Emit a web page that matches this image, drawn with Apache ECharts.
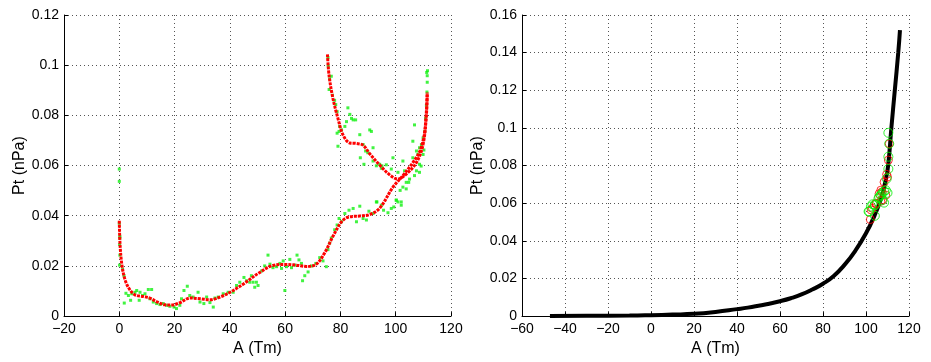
<!DOCTYPE html>
<html>
<head>
<meta charset="utf-8">
<script src="https://cdn.jsdelivr.net/npm/echarts@6/dist/echarts.min.js"></script>
<style>
html,body{margin:0;padding:0;background:#fff;}
#chart{width:931px;height:362px;}
</style>
</head>
<body>
<div id="chart"></div>
<script>
// ---------- tick labels ----------
const leftXTicks = [-20, 0, 20, 40, 60, 80, 100, 120];
const leftYTicks = [0, 0.02, 0.04, 0.06, 0.08, 0.1, 0.12];
const rightXTicks = [-60, -40, -20, 0, 20, 40, 60, 80, 100, 120];
const rightYTicks = [0, 0.02, 0.04, 0.06, 0.08, 0.1, 0.12, 0.14, 0.16];
const xAxisTitle = 'A (Tm)';
const yAxisTitle = 'Pt (nPa)';

// ---------- left panel: fitted curve (red), lower and upper branches ----------
const fitLower = [
  [0,0.038],[0.3,0.028],[1,0.02],[2.2,0.0141],[4,0.0102],[5.8,0.0084],[8.8,0.0078],[11.2,0.0071],
  [13.6,0.0057],[16.6,0.0045],[19,0.0044],[22,0.0054],[25.6,0.0072],[29.3,0.0069],[32.9,0.0065],
  [36.5,0.0076],[40.1,0.0095],[44.9,0.0128],[50.8,0.0174],[55.6,0.0202],[60.5,0.0206],[64,0.0203],
  [67.7,0.0198],[71.3,0.0207],[74.3,0.0252],[77.3,0.0318],[80.4,0.0376],[82.7,0.0394],[87,0.0399],
  [90.6,0.0405],[94.2,0.043],[99,0.0514],[102.6,0.056],[106.2,0.0612],[108.7,0.0657],[110.5,0.0736],[111.4,0.089]
];
const fitUpper = [
  [75.3,0.1043],[75.9,0.0958],[77.3,0.0867],[79.1,0.0788],[80.9,0.0723],[83.4,0.069],[85.8,0.0688],
  [88.2,0.0681],[90.6,0.0647],[94.2,0.0602],[97.8,0.0563],[100.8,0.0546],[103.8,0.0566],[107.5,0.0612],
  [109.9,0.0684],[111.1,0.0801],[111.4,0.089]
];

// ---------- left panel: observations (green) ----------
const observed = [
  [0,0.0586],[0,0.0537],[0,0.037],[0.2,0.0318],[0.2,0.0311],[0.1,0.0285],[0.2,0.0243],[0.1,0.0203],
  [1.2,0.0187],[1.7,0.0161],[2.4,0.0091],[1.8,0.0052],[3.3,0.0082],[4.5,0.0089],[4.1,0.0063],
  [5.7,0.0095],[6.3,0.0102],[7.5,0.0095],[7.2,0.0063],[8.4,0.0082],[9.3,0.0089],[10.5,0.0106],
  [11.7,0.0106],[11.1,0.0069],[12.3,0.0056],[13.5,0.005],[14.7,0.0046],[15.9,0.005],[17.1,0.0043],
  [18.3,0.0039],[19.8,0.0036],[20.7,0.003],[21.9,0.0043],[22.5,0.0069],[23.4,0.0102],[24.6,0.0119],
  [25.5,0.0082],[26.7,0.0076],[28.5,0.0095],[29.2,0.0056],[30.6,0.005],[31.6,0.0076],[32.8,0.0054],
  [34.6,0.0072],[34,0.0036],[35.8,0.0076],[37.6,0.0089],[39.4,0.0095],[41.2,0.0095],[42.4,0.0122],
  [43.6,0.0135],[45.1,0.0154],[46,0.0141],[47.2,0.0135],[47.8,0.0161],[49,0.0115],[49.6,0.0135],
  [48.4,0.0135],[50.2,0.0122],[51.5,0.018],[52.6,0.02],[53.8,0.0243],[54.5,0.0207],[55.6,0.0193],
  [56.9,0.0197],[58.1,0.021],[58.7,0.019],[59.3,0.022],[59.9,0.0102],[60.5,0.0197],[61.7,0.0226],
  [62.3,0.0193],[63.5,0.0203],[64.3,0.0243],[65,0.0224],[65.9,0.021],[66.3,0.0141],[67.1,0.0161],
  [68.3,0.0176],[69.5,0.02],[71.1,0.021],[72.5,0.0233],[73.7,0.022],[74.9,0.0197],[75.5,0.0265],
  [76.1,0.0291],[76.7,0.0311],[77.9,0.0344],[78.8,0.0363],[79.5,0.0389],[80.4,0.0376],[81.6,0.0409],
  [83.1,0.0422],[84.6,0.0429],[85.8,0.0376],[87,0.0438],[88.2,0.0389],[89.4,0.0383],[90.3,0.0418],
  [91.8,0.0409],[93.2,0.0455],[94.8,0.0442],[95.6,0.0422],[97.2,0.0412],[98.4,0.0429],[99.3,0.0435],
  [100.2,0.0462],[100.8,0.0455],[102,0.0442],[102.6,0.0514],[103.8,0.0533],[105,0.0546],
  [75.5,0.103],[75.6,0.0997],[76.1,0.0945],[76.7,0.0956],[75.9,0.0903],[77.1,0.088],[77.9,0.086],
  [78.3,0.0843],[78.8,0.0815],[82.7,0.083],[83.4,0.0804],[84,0.0788],[84.6,0.0782],[85.5,0.0782],
  [82.2,0.0775],[81.6,0.0756],[80.4,0.0742],[79.5,0.0736],[78.8,0.0729],[79.7,0.0756],[79.1,0.0677],
  [87,0.0723],[88.2,0.0684],[89.1,0.0658],[89.9,0.0651],[90.6,0.0742],[91.2,0.0736],[87.2,0.0631],
  [88.5,0.0605],[91.8,0.0618],[93,0.0599],[94.2,0.0605],[94.8,0.0589],[96.6,0.0603],[98.4,0.0586],
  [99,0.0631],[100.8,0.0573],[102.6,0.0618],[103.2,0.0579],[106.2,0.0631],[106.8,0.0762],[107.5,0.0658],
  [108,0.0644],[108.6,0.0671],[109.3,0.0684],[109.9,0.071],[110.5,0.0736],[110.8,0.0788],[111.1,0.084],
  [111.3,0.0893],[111.4,0.0932],[111.4,0.0958],[111.5,0.0978],[109.9,0.0644],[108.6,0.0605],[107.5,0.0579],
  [106.8,0.056],[91.8,0.0671],[95,0.0599],[106.2,0.0697],[108.6,0.0573],[104.7,0.0533],[103.8,0.0507],
  [101.6,0.0501],[102,0.0455],[100.2,0.0462],[93,0.0455],[111.2,0.0971],[110.2,0.0662],[109.2,0.0598]
];

// ---------- right panel: model curve (black) ----------
const modelCurve = [
  [-47,0.0001],[-30,0.0002],[-10,0.0003],[0,0.0005],[10,0.0008],[20,0.0012],[30,0.0022],[40,0.0037],
  [45,0.0045],[50,0.0055],[55,0.0066],[60,0.0079],[65,0.0095],[70,0.0115],[75,0.0141],[80,0.0172],
  [85,0.0213],[90,0.0272],[95,0.0347],[100,0.044],[104,0.0535],[107,0.0625],[109,0.0715],[110.3,0.08],
  [111.8,0.1],[113.4,0.12],[115,0.14],[115.8,0.152]
];
// ---------- right panel: circles ----------
const greenCircles = [
  [110.4,0.0974],[110.8,0.0916],[110.4,0.0847],[110.4,0.0782],[109.6,0.073],[109.2,0.0669],[107.4,0.0651],
  [110,0.0655],[106.1,0.0634],[108.4,0.0603],[104.1,0.0591],[102.3,0.0582],[101.5,0.0556],[104.1,0.0533],
  [106.9,0.0643],[107.7,0.0617],[105.8,0.0625],[103,0.0594],[104.3,0.059],[101.2,0.0556],[108.4,0.0664]
];
const redCircles = [
  [110.8,0.0916],[110.4,0.0829],[110,0.0739],[108.4,0.0712],[106.9,0.0669],[107.7,0.0617],[104.6,0.06],
  [103,0.0573],[102,0.0513],[109.6,0.0753],[107.4,0.066],[106.1,0.065],[109.2,0.0643],[106.9,0.061],
  [104.8,0.0596],[102.4,0.0564]
];

const FONT = 'Liberation Sans, Arial, Helvetica, sans-serif';
const fmtX = v => (v < 0 ? '\u2212' + (-v) : String(v));
const fmtY = v => String(+v.toFixed(2));
const gridLine = {show: true, lineStyle: {color: '#555', type: [1, 3], width: 1}};

function xAxisFor(ticks, gridIndex) {
  return {
    type: 'value', gridIndex: gridIndex,
    min: ticks[0], max: ticks[ticks.length - 1], interval: ticks[1] - ticks[0],
    name: xAxisTitle, nameLocation: 'middle', nameGap: 23,
    nameTextStyle: {fontFamily: FONT, fontSize: 16, color: '#000'},
    axisLine: {show: true, onZero: false, lineStyle: {color: '#000', width: 1}},
    axisTick: {show: true, inside: true, length: 4, lineStyle: {color: '#000'}},
    axisLabel: {formatter: fmtX, fontFamily: FONT, fontSize: 14, color: '#000', margin: 6, showMaxLabel: true, showMinLabel: true},
    splitLine: gridLine
  };
}
function yAxisFor(ticks, gridIndex, gap) {
  return {
    type: 'value', gridIndex: gridIndex,
    min: ticks[0], max: ticks[ticks.length - 1], interval: +(ticks[1] - ticks[0]).toFixed(4),
    name: yAxisTitle, nameLocation: 'middle', nameGap: gap, nameRotate: 90,
    nameTextStyle: {fontFamily: FONT, fontSize: 16, color: '#000'},
    axisLine: {show: true, onZero: false, lineStyle: {color: '#000', width: 1}},
    axisTick: {show: true, inside: true, length: 4, lineStyle: {color: '#000'}},
    axisLabel: {formatter: fmtY, fontFamily: FONT, fontSize: 14, color: '#000', margin: 5, showMaxLabel: true, showMinLabel: true},
    splitLine: gridLine
  };
}

const chart = echarts.init(document.getElementById('chart'), null, {renderer: 'canvas'});
chart.setOption({
  animation: false,
  backgroundColor: '#fff',
  grid: [
    {left: 64, right: 480, top: 15, bottom: 41},
    {left: 522, right: 22, top: 15, bottom: 41}
  ],
  xAxis: [xAxisFor(leftXTicks, 0), xAxisFor(rightXTicks, 1)],
  yAxis: [yAxisFor(leftYTicks, 0, 35), yAxisFor(rightYTicks, 1, 34)],
  series: [
    {type: 'scatter', xAxisIndex: 0, yAxisIndex: 0, data: observed, symbol: 'rect', symbolSize: 3,
     itemStyle: {color: '#11f011'}, z: 2},
    {type: 'line', xAxisIndex: 0, yAxisIndex: 0, data: fitLower, smooth: 0.35,
     showSymbol: false, lineStyle: {color: '#ff0000', width: 3, type: [3, 1]}, z: 3},
    {type: 'line', xAxisIndex: 0, yAxisIndex: 0, data: fitUpper, smooth: 0.35,
     showSymbol: false, lineStyle: {color: '#ff0000', width: 3, type: [3, 1]}, z: 3},
    {type: 'line', xAxisIndex: 1, yAxisIndex: 1, data: modelCurve, smooth: 0.5,
     showSymbol: false, lineStyle: {color: '#000', width: 4}, z: 2},
    {type: 'scatter', xAxisIndex: 1, yAxisIndex: 1, data: redCircles, symbol: 'circle', symbolSize: 8,
     itemStyle: {color: 'rgba(0,0,0,0)', borderColor: '#ff0000', borderWidth: 1}, z: 3},
    {type: 'scatter', xAxisIndex: 1, yAxisIndex: 1, data: greenCircles, symbol: 'circle', symbolSize: 9,
     itemStyle: {color: 'rgba(0,0,0,0)', borderColor: '#00ee00', borderWidth: 1}, z: 4}
  ]
});
</script>
</body>
</html>
